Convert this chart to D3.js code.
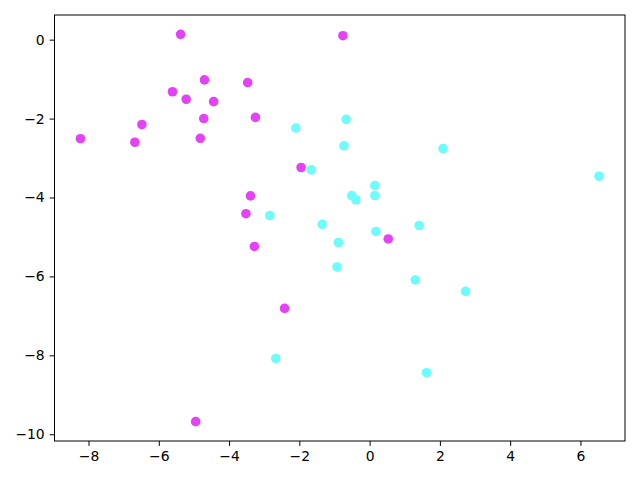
<!DOCTYPE html>
<html>
<head>
<meta charset="utf-8">
<script src="https://cdn.jsdelivr.net/npm/d3@7"></script>
<style>
  html, body { margin: 0; padding: 0; background: #fff; }
  svg text { font-family: "DejaVu Sans", sans-serif; }
</style>
</head>
<body>
<svg id="chart" width="640" height="480"></svg>
<script>
const magentaX = [-8.23, -6.68, -6.48, -5.38, -5.61, -5.22, -4.70, -4.44, -4.72, -4.82, -3.47, -3.25, -3.39, -3.52, -3.28, -1.95, -0.76, 0.53, -2.42, -4.95];
const magentaY = [-2.51, -2.60, -2.15, 0.134, -1.32, -1.51, -1.02, -1.57, -2.00, -2.50, -1.09, -1.97, -3.96, -4.41, -5.24, -3.24, 0.10, -5.05, -6.81, -9.68];
const cyanX = [-2.10, -0.67, -0.73, 2.09, 6.53, -1.66, 0.15, -0.51, -0.39, 0.15, -2.84, -1.35, 1.41, 0.18, -0.89, -0.93, 1.30, 2.73, -2.67, 1.62];
const cyanY = [-2.24, -2.02, -2.69, -2.76, -3.46, -3.30, -3.70, -3.95, -4.06, -3.95, -4.46, -4.68, -4.71, -4.86, -5.14, -5.76, -6.09, -6.38, -8.08, -8.44];
const xTicks = [-8, -6, -4, -2, 0, 2, 4, 6];
const yTicks = [0, -2, -4, -6, -8, -10];

const plotLeft = 54.5, plotRight = 625, plotTop = 15, plotBottom = 441;
const svg = d3.select("#chart");

const allX = magentaX.concat(cyanX), allY = magentaY.concat(cyanY);
const [x0, x1] = d3.extent(allX), [y0, y1] = d3.extent(allY);
const mx = (x1 - x0) * 0.05, my = (y1 - y0) * 0.05;
const x = d3.scaleLinear().domain([x0 - mx, x1 + mx]).range([plotLeft, plotRight]);
const y = d3.scaleLinear().domain([y0 - my, y1 + my]).range([plotBottom, plotTop]);

const fmt = d => (d < 0 ? "\u2212" + Math.abs(d) : "" + d);

const xAxis = svg.append("g").attr("transform", `translate(0,${plotBottom})`)
  .call(d3.axisBottom(x).tickValues(xTicks).tickFormat(fmt).tickSize(4.9).tickPadding(4.9));
const yAxis = svg.append("g").attr("transform", `translate(${plotLeft},0)`)
  .call(d3.axisLeft(y).tickValues(yTicks).tickFormat(fmt).tickSize(4.9).tickPadding(4.9));
[xAxis, yAxis].forEach(a => {
  a.select(".domain").remove();
  a.selectAll("line").attr("stroke", "#000").attr("stroke-width", 1);
  a.selectAll("text").attr("font-size", "13.9px").attr("fill", "#000")
    .style("font-family", "'DejaVu Sans', sans-serif");
});

const magenta = magentaX.map((v, i) => [v, magentaY[i]]);
const cyan = cyanX.map((v, i) => [v, cyanY[i]]);

svg.append("g").selectAll("circle").data(magenta).join("circle")
  .attr("cx", d => x(d[0])).attr("cy", d => y(d[1])).attr("r", 4.8)
  .attr("fill", "#e442f5");
svg.append("g").selectAll("circle").data(cyan).join("circle")
  .attr("cx", d => x(d[0])).attr("cy", d => y(d[1])).attr("r", 4.8)
  .attr("fill", "#6cfcfc");

svg.append("rect").attr("x", plotLeft).attr("y", plotTop)
  .attr("width", plotRight - plotLeft).attr("height", plotBottom - plotTop)
  .attr("fill", "none").attr("stroke", "#000").attr("stroke-width", 1);
</script>
</body>
</html>
